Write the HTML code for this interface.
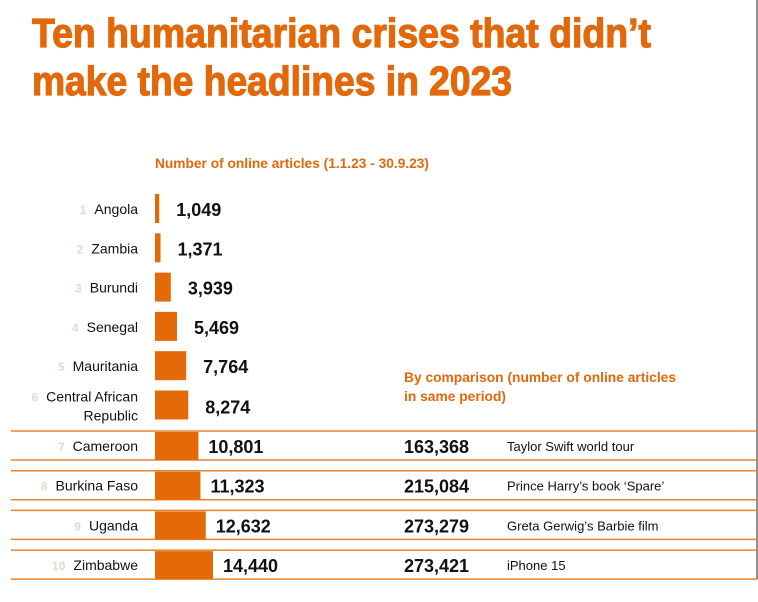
<!DOCTYPE html>
<html><head><meta charset="utf-8">
<style>
html,body{margin:0;padding:0;background:#fff;width:758px;height:602px;overflow:hidden}
svg{display:block}
.title{font-family:"Liberation Sans",sans-serif;font-weight:bold;fill:#E2680A;stroke:#E2680A;stroke-width:1.2px;font-size:41px}
.sub{font-family:"Liberation Sans",sans-serif;font-weight:bold;fill:#E2680A;font-size:14px}
.cat{font-family:"Liberation Sans",sans-serif;fill:#111;font-size:14px}
.rank{font-family:"Liberation Sans",sans-serif;font-weight:bold;fill:#E4DACB;font-size:12px}
.val{font-family:"Liberation Sans",sans-serif;font-weight:bold;fill:#111;font-size:18px}
.cmp{font-family:"Liberation Sans",sans-serif;fill:#111;font-size:13px}
</style></head>
<body>
<svg id="chart" width="758" height="602">
<text class="title" x="32" y="47" textLength="619" lengthAdjust="spacingAndGlyphs">Ten humanitarian crises that didn’t</text>
<text class="title" x="32" y="95" textLength="480" lengthAdjust="spacingAndGlyphs">make the headlines in 2023</text>
<text class="sub" x="155" y="168" textLength="274" lengthAdjust="spacingAndGlyphs">Number of online articles (1.1.23 - 30.9.23)</text>
<text class="sub" x="404" y="382" textLength="272" lengthAdjust="spacingAndGlyphs">By comparison (number of online articles</text>
<text class="sub" x="404" y="401" textLength="102" lengthAdjust="spacingAndGlyphs">in same period)</text>
<line x1="757" y1="0" x2="757" y2="579" stroke="#222" stroke-width="1"/>
<g id="rows"></g>
</svg>
<script>
const categories=["Angola","Zambia","Burundi","Senegal","Mauritania","Central African Republic","Cameroon","Burkina Faso","Uganda","Zimbabwe"];
const values=[1049,1371,3939,5469,7764,8274,10801,11323,12632,14440];
const valueLabels=["1,049","1,371","3,939","5,469","7,764","8,274","10,801","11,323","12,632","14,440"];
const compValues=["163,368","215,084","273,279","273,421"];
const compLabels=["Taylor Swift world tour","Prince Harry’s book ‘Spare’","Greta Gerwig’s Barbie film","iPhone 15"];
const NS="http://www.w3.org/2000/svg";
const g=document.getElementById("rows");
const x0=155, scale=58/14440;
const xs=v=>v*scale;
const yc=i=>i<6?209+i*39.3:446+(i-6)*39.7;
function mk(tag,attrs,txt){const e=document.createElementNS(NS,tag);for(const k in attrs)e.setAttribute(k,attrs[k]);if(txt!=null)e.textContent=txt;g.appendChild(e);return e;}
categories.forEach((c,i)=>{
  const y=yc(i);
  const framed=i>=6;
  if(framed){
    const l1=mk("line",{x1:11,x2:757,y1:y-15,y2:y-15,stroke:"#E8832E","stroke-width":1.5});
    
    
    const l2=mk("line",{x1:11,x2:757,y1:y+14,y2:y+14,stroke:"#E8832E","stroke-width":1.5});
    
    
  }
  const bw=xs(values[i]);
  const b=mk("rect",{x:x0,y:framed?y-14:y-15,width:bw,height:framed?28:29,fill:"#E36A06"});
  
  
  let labelW;
  if(i==5){
    const t1=mk("text",{class:"cat",x:138,y:y-4,"text-anchor":"end"},"Central African");
    
    
    const t2=mk("text",{class:"cat",x:138,y:y+15,"text-anchor":"end"},"Republic");
    
    
    labelW=t1.getComputedTextLength();
  } else {
    const t=mk("text",{class:"cat",x:138,y:y+5,"text-anchor":"end"},c);
    
    
    labelW=t.getComputedTextLength();
  }
  const r=mk("text",{class:"rank",x:138-labelW-8,y:i==5?y-4:y+5,"text-anchor":"end"},String(i+1));
  
  
  const v=mk("text",{class:"val",x:x0+bw+(framed?10:17),y:i==5?y+8:y+7},valueLabels[i]);
  
  
  if(framed){
    const k=i-6;
    const cv=mk("text",{class:"val",x:404,y:y+7},compValues[k]);
    
    
    const cl=mk("text",{class:"cmp",x:507,y:y+5},compLabels[k]);
    
    
  }
});
</script>
</body></html>
